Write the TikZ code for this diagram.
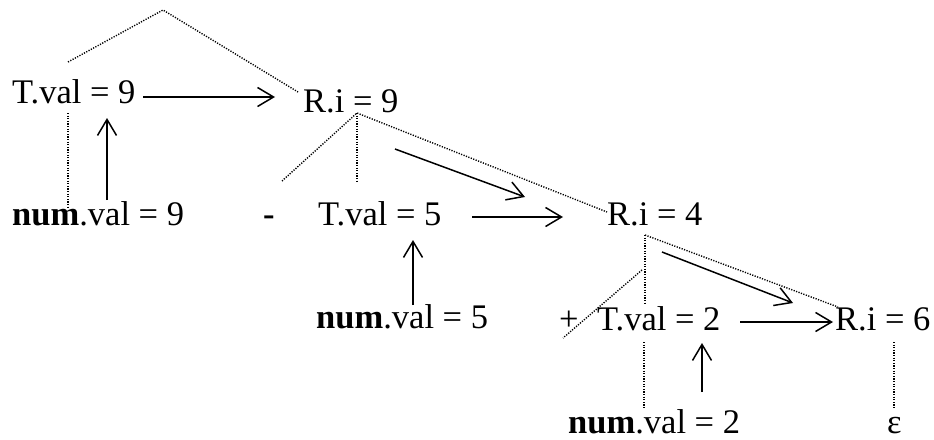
\documentclass[tikz,border=0pt]{standalone}
\usepackage{fontspec}
\setmainfont{Liberation Serif}
\usetikzlibrary{arrows.meta}
\begin{document}
\begin{tikzpicture}[x=1pt,y=-1pt,
  lbl/.style={inner sep=0pt,anchor=base west,font=\fontsize{34.5}{40}\selectfont},
  arr/.style={line width=1.5pt,-{Straight Barb[length=16pt,width=19pt,line width=1.5pt]}},
  tree/.style={line width=1.4pt,dash pattern=on 1.2pt off 1.4pt}]
\useasboundingbox (0,0) rectangle (934,439);
% nodes
\node[lbl] (tv9) at (12,103) {T.val = 9};
\node[lbl] (ri9) at (303,112) {R.i = 9};
\node[lbl] (nv9) at (12,225) {\textbf{num}.val = 9};
\node[lbl] (minus) at (263,225) {\textbf{-}};
\node[lbl] (tv5) at (318,225) {T.val = 5};
\node[lbl] (ri4) at (607,225) {R.i = 4};
\node[lbl] (nv5) at (316,328) {\textbf{num}.val = 5};
\node[lbl] (plus) at (559,330) {+};
\node[lbl] (tv2) at (597,330) {T.val = 2};
\node[lbl] (ri6) at (835,330) {R.i = 6};
\node[lbl] (nv2) at (568,433) {\textbf{num}.val = 2};
\node[lbl] (eps) at (887,433) {ε};
% tree coordinates
\coordinate (top) at (163,10);
\coordinate (topL) at (68,62);
\coordinate (topR) at (298,92);
\coordinate (t9a) at (68,113);
\coordinate (t9b) at (68,207);
\coordinate (r9) at (357,113);
\coordinate (r9L) at (282,181);
\coordinate (r9M) at (357,182);
\coordinate (r9R) at (607,212);
\coordinate (r4) at (645,235);
\coordinate (r4M) at (645,303);
\coordinate (r4La) at (642,270);
\coordinate (r4Lb) at (563,338);
\coordinate (r4R) at (838,307);
\coordinate (t2a) at (644,342);
\coordinate (t2b) at (644,408);
\coordinate (r6a) at (894,342);
\coordinate (r6b) at (894,408);
% tree lines
\draw[tree] (topL) -- (top) -- (topR);
\draw[tree] (t9a) -- (t9b);
\draw[tree] (r9L) -- (r9) -- (r9R);
\draw[tree] (r9) -- (r9M);
\draw[tree] (r4) -- (r4M);
\draw[tree] (r4La) -- (r4Lb);
\draw[tree] (r4) -- (r4R);
\draw[tree] (t2a) -- (t2b);
\draw[tree] (r6a) -- (r6b);
% arrow coordinates
\coordinate (a1s) at (143,97);  \coordinate (a1e) at (275,97);
\coordinate (u1s) at (107,200); \coordinate (u1e) at (107,118);
\coordinate (d1s) at (395,149); \coordinate (d1e) at (525,197);
\coordinate (a2s) at (472,217); \coordinate (a2e) at (563,217);
\coordinate (u2s) at (413,305); \coordinate (u2e) at (413,240);
\coordinate (d2s) at (662,252); \coordinate (d2e) at (793,303);
\coordinate (a3s) at (740,322); \coordinate (a3e) at (833,322);
\coordinate (u3s) at (702,392); \coordinate (u3e) at (702,343);
% arrows
\draw[arr] (a1s) -- (a1e);
\draw[arr] (u1s) -- (u1e);
\draw[arr] (d1s) -- (d1e);
\draw[arr] (a2s) -- (a2e);
\draw[arr] (u2s) -- (u2e);
\draw[arr] (d2s) -- (d2e);
\draw[arr] (a3s) -- (a3e);
\draw[arr] (u3s) -- (u3e);
\end{tikzpicture}
\end{document}
